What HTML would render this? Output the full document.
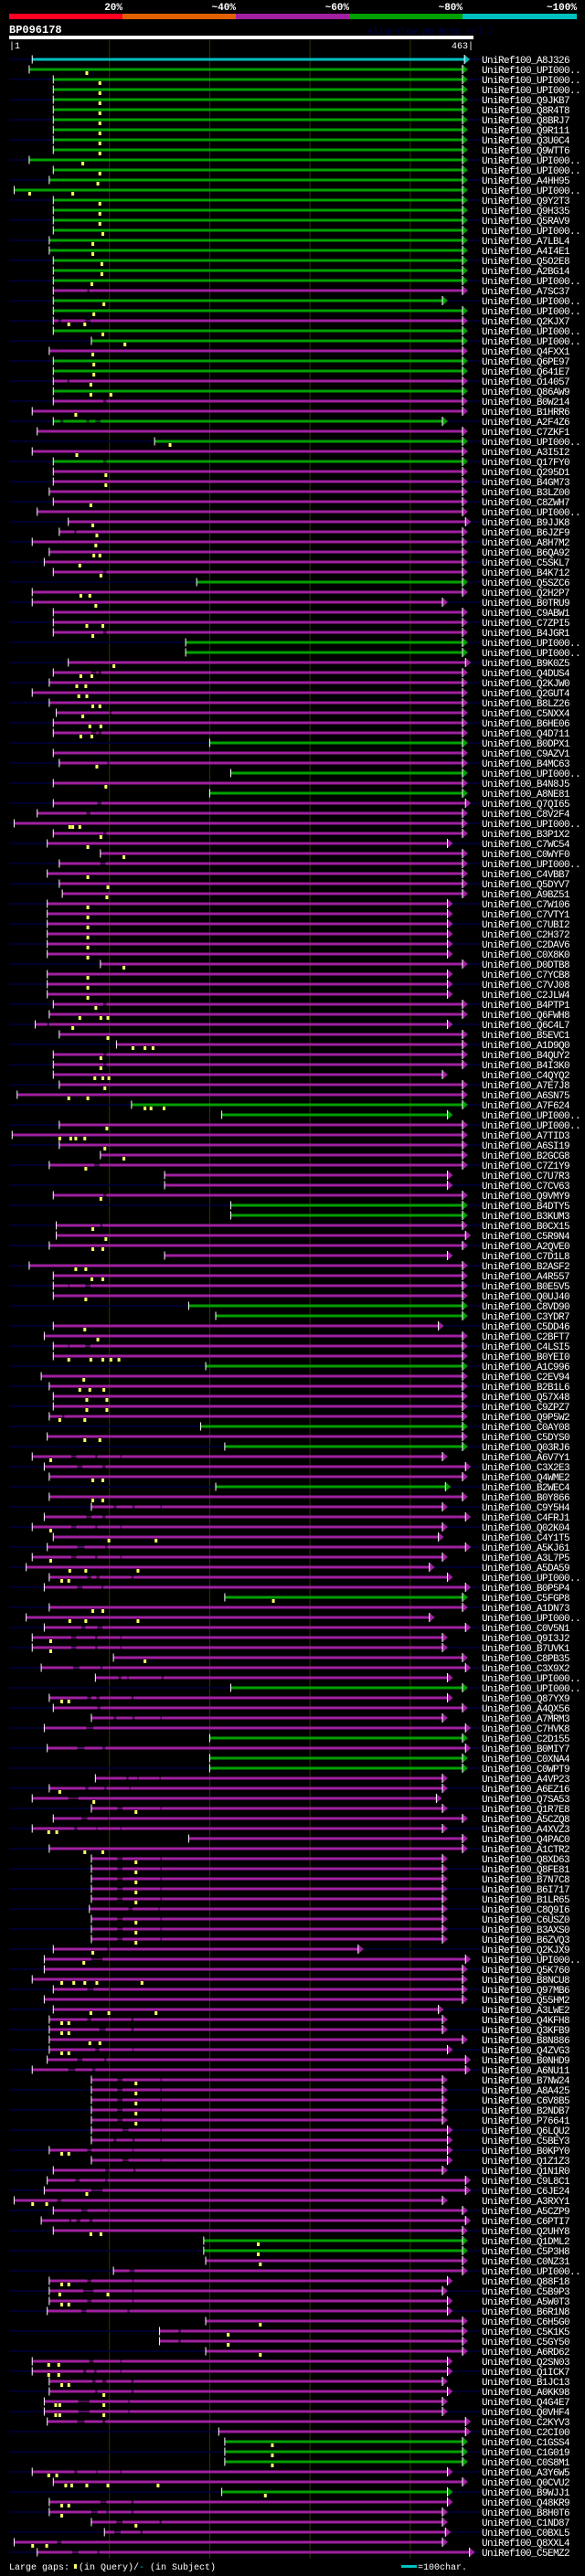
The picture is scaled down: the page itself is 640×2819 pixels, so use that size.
<!DOCTYPE html>
<html><head><meta charset="utf-8">
<style>
html,body{margin:0;padding:0;background:#000;}
svg{display:block;}
text{font-family:"Liberation Mono","DejaVu Sans Mono",monospace;}
</style></head>
<body>
<svg id="chart" xmlns="http://www.w3.org/2000/svg" width="640" height="2819" viewBox="0 0 640 2819">
<rect x="0" y="0" width="640" height="2819" fill="#000"/>
<g>
<rect x="10" y="15" width="124" height="6" fill="#ff0020"/>
<rect x="134" y="15" width="124" height="6" fill="#e06000"/>
<rect x="258" y="15" width="124" height="6" fill="#a020a0"/>
<rect x="382" y="15" width="124" height="6" fill="#00a000"/>
<rect x="506" y="15" width="125" height="6" fill="#00c0c0"/>
<text x="134" y="11" fill="#fff" font-size="11" font-weight="bold" text-anchor="end">20%</text>
<text x="258" y="11" fill="#fff" font-size="11" font-weight="bold" text-anchor="end">~40%</text>
<text x="382" y="11" fill="#fff" font-size="11" font-weight="bold" text-anchor="end">~60%</text>
<text x="506" y="11" fill="#fff" font-size="11" font-weight="bold" text-anchor="end">~80%</text>
<text x="631" y="11" fill="#fff" font-size="11" font-weight="bold" text-anchor="end">~100%</text>
</g>
<text x="10" y="36" fill="#fff" font-size="12" font-weight="bold">BP096178</text>
<text x="402" y="37" fill="#000050" font-size="10">AlignView.pm Beta rel.7</text>
<rect x="10" y="39" width="508" height="4" fill="#fff"/>
<text x="10" y="53" fill="#fff" font-size="10">|1</text>
<text x="518" y="53" fill="#fff" font-size="10" text-anchor="end">463|</text>
<g id="grid"></g>
<g id="rows"></g>
<g>
<text x="10" y="2812" fill="#fff" font-size="10">Large gaps:</text>
<rect x="81" y="2806" width="3" height="5" fill="#ffff66"/>
<text x="86" y="2812" fill="#fff" font-size="10">(in Query)/</text>
<text x="152" y="2812" fill="#00c0c0" font-size="10">-</text>
<text x="164" y="2812" fill="#fff" font-size="10">(in Subject)</text>
<rect x="439" y="2807" width="17" height="3" fill="#00c0c0"/>
<text x="457" y="2812" fill="#fff" font-size="10">=100char.</text>
</g>
</svg>
<script>
const queryLength = 463;
const gridTicks = [100, 200, 300, 400];
const hitLabels = ["A8J326","UPI000..","UPI000..","UPI000..","Q9JKB7","Q8R4T8","Q8BRJ7","Q9R111","Q3U0C4","Q9WTT6",
"UPI000..","UPI000..","A4HH95","UPI000..","Q9Y2T3","Q9H335","Q5RAV9","UPI000..","A7LBL4","A4I4E1",
"Q5O2E8","A2BG14","UPI000..","A7SC37","UPI000..","UPI000..","Q2KJX7","UPI000..","UPI000..","Q4FXX1",
"Q6PE97","Q641E7","O14057","Q86AW9","B0W214","B1HRR6","A2F4Z6","C7ZKF1","UPI000..","A3I5I2",
"Q17FY0","Q295D1","B4GM73","B3LZ00","C8ZWH7","UPI000..","B9JJK8","B6JZF9","A8H7M2","B6QA92",
"C5SKL7","B4K712","Q5SZC6","Q2H2P7","B0TRU9","C9ABW1","C7ZPI5","B4JGR1","UPI000..","UPI000..",
"B9K0Z5","Q4DUS4","Q2KJW0","Q2GUT4","B8LZ26","C5NXX4","B6HE06","Q4D711","B0DPX1","C9AZV1",
"B4MC63","UPI000..","B4N8J5","A8NE81","Q7QI65","C8V2F4","UPI000..","B3P1X2","C7WC54","C0WYF0",
"UPI000..","C4VBB7","Q5DYV7","A9BZ51","C7W106","C7VTY1","C7UBI2","C2H372","C2DAV6","C0X8K0",
"D0DTB8","C7YCB8","C7VJ08","C2JLW4","B4PTP1","Q6FWH8","Q6C4L7","B5EVC1","A1D9Q0","B4QUY2",
"B4I3K0","C4QYQ2","A7E7J8","A6SN75","A7F624","UPI000..","UPI000..","A7TID3","A6SI19","B2GCG8",
"C7Z1Y9","C7U7R3","C7CV63","Q9VMY9","B4DTY5","B3KUM3","B0CX15","C5R9N4","A2QVE0","C7D1L8",
"B2ASF2","A4R557","B0E5V5","Q0UJ40","C8VD90","C3YDR7","C5DD46","C2BFT7","C4LSI5","B0YEI0",
"A1C996","C2EV94","B2B1L6","Q57X48","C9ZPZ7","Q9P5W2","C0AY08","C5DYS0","Q03RJ6","A6V7Y1",
"C3X2E3","Q4WME2","B2WEC4","B0Y866","C9Y5H4","C4FRJ1","Q02K04","C4Y1T5","A5KJ61","A3L7P5",
"A5DA59","UPI000..","B0P5P4","C5FGP8","A1DN73","UPI000..","C0V5N1","Q9I3J2","B7UVK1","C8PB35",
"C3X9X2","UPI000..","UPI000..","Q87YX9","A4QX56","A7MRM3","C7HVK8","C2D155","B0MIY7","C0XNA4",
"C0WPT9","A4VP23","A6EZ16","Q7SA53","Q1R7E8","A5CZQ8","A4XVZ3","Q4PAC0","A1CTR2","Q8XD63",
"Q8FE81","B7N7C8","B6I717","B1LR65","C8Q9I6","C6USZ0","B3AXS0","B6ZVQ3","Q2KJX9","UPI000..",
"Q5K760","B8NCU8","Q97MB6","Q55HM2","A3LWE2","Q4KFH8","Q3KFB9","B8N886","Q4ZVG3","B0NHD9",
"A6NU11","B7NW24","A8A425","C6V8B5","B2NDB7","P76641","Q6LQU2","C5BEY3","B0KPY0","Q1Z1Z3",
"Q1N1R0","C9L8C1","C6JE24","A3RXY1","A5CZP9","C6PTI7","Q2UHY8","Q1DML2","C5P3H8","C0NZ31",
"UPI000..","Q88F18","C5B9P3","A5W0T3","B6R1N8","C6H5G0","C5K1K5","C5GY50","A6RD62","Q2SN03",
"Q1ICK7","B1JC13","A0KK98","Q4G4E7","Q0VHF4","C2KYV3","C2CI00","C1GSS4","C1G019","C0S8M1",
"A3Y6W5","Q0CVU2","B9WJJ1","Q48KR9","B8H0T6","C1ND87","C0BXL5","Q8XXL4","C5EMZ2"];
const hitIdentity = ("cggggggggg"+"gggggggggg"+"gggmggmggm"+"ggmgmmgmgm"+"gmmmmmmmmm"+"mmgmmmmmgg"+"mmmmmmmmgm"+"mgmgmmmmmm"+"mmmmmmmmmm"+"mmmmmmmmmm"+
"mmmmggmmmm"+"mmmmggmmmm"+"mmmmggmmmm"+"gmmmmmgmgm"+"mmgmmmmmmm"+"mmmgmmmmmm"+"mmgmmmmgmg"+"gmmmmmmmmm"+"mmmmmmmmmm"+"mmmmmmmmmm"+
"mmmmmmmmmm"+"mmmmmmmggm"+"mmmmmmmmmm"+"mmmmmmmggg"+"mmgmmmmmm").split("");
const hitStarts = [23,20,44,44,44,44,44,44,44,44, 20,44,40,5,44,44,44,44,40,40,
44,44,44,44,44,44,44,44,82,40, 44,44,44,44,44,23,44,28,145,23,
44,44,44,40,44,28,59,50,23,40, 35,44,187,23,23,44,44,44,176,176,
59,44,40,23,40,47,44,44,200,44, 50,221,44,200,44,28,5,44,38,91,
50,38,50,53,38,38,38,38,38,38, 91,38,38,38,44,40,26,50,107,44,
44,44,50,8,122,212,50,3,50,91, 40,155,155,44,221,221,47,47,40,155,
20,44,44,44,179,206,44,35,44,44, 196,32,40,44,44,40,191,38,215,23,
35,40,206,40,82,35,23,44,38,23, 17,40,35,215,40,17,35,23,23,104,
32,86,221,40,44,82,35,200,38,200, 200,86,40,23,82,44,23,179,40,82,
82,82,82,82,80,82,82,82,44,35, 35,23,44,35,44,40,40,40,40,38,
23,82,82,82,82,82,82,82,40,82, 44,38,35,5,44,32,44,194,194,196,
104,40,40,40,38,196,150,150,196,23, 23,40,40,35,35,38,209,215,215,215,
23,44,212,40,40,82,95,5,28];
const hitEnds = [454,452,452,452,452,452,452,452,452,452, 452,452,452,452,452,452,452,452,452,452,
452,452,452,452,432,452,452,452,452,452, 452,452,452,452,452,452,432,452,452,452,
452,452,452,452,452,452,455,452,452,452, 452,452,452,452,432,452,452,452,452,452,
455,452,452,452,452,452,452,452,452,452, 452,452,452,452,455,452,452,452,437,452,
452,452,452,452,437,437,437,437,437,437, 452,437,437,437,452,452,437,452,452,452,
452,432,452,452,452,437,452,452,452,452, 452,437,437,452,452,452,452,455,452,437,
452,452,452,452,452,452,428,452,452,452, 452,452,452,452,452,452,452,452,452,432,
455,452,435,452,432,455,432,428,455,432, 419,437,455,452,452,419,455,432,432,452,
455,437,452,437,452,432,455,452,455,452, 452,432,432,426,432,452,432,452,452,432,
432,432,432,432,432,432,432,432,348,455, 452,452,452,452,428,432,432,452,437,455,
455,432,432,432,432,432,437,437,437,437, 432,455,455,432,452,455,452,452,452,452,
452,437,432,437,437,452,452,452,452,437, 437,432,437,432,432,455,455,452,452,452,
437,452,437,437,432,432,435,432,459];
const hitGaps = [];
hitGaps[23]=[[78,80]]; hitGaps[26]=[[49,52],[76,81]]; hitGaps[32]=[[58,60]];
hitGaps[36]=[[51,54],[77,80],[86,91]]; hitGaps[47]=[[65,67]];
[34,40,51,57,77,94,99,100,113].forEach(i=>{hitGaps[i]=[[94,97]];});
hitGaps[61]=[[82,87],[89,92]]; hitGaps[67]=[[82,87],[89,92]]; hitGaps[65]=[[100,102]];
hitGaps[70]=[[98,100]]; hitGaps[74]=[[88,92]]; hitGaps[75]=[[77,81]]; hitGaps[80]=[[91,96]];
hitGaps[96]=[[38,40]]; hitGaps[110]=[[85,90]]; hitGaps[116]=[[91,93]];
hitGaps[122]=[[59,60],[76,81]]; hitGaps[128]=[[59,60],[76,81]]; hitGaps[135]=[[53,55]];
[139,146,149,157,158].forEach(i=>{hitGaps[i]=[[62,67],[86,88],[111,112]];});
hitGaps[140]=[[68,73],[93,96]]; hitGaps[144]=[[104,107],[123,125],[151,152]];
hitGaps[145]=[[77,82],[93,96]]; hitGaps[148]=[[68,75],[96,98]];
hitGaps[151]=[[78,82],[87,90],[122,124]]; hitGaps[152]=[[68,73],[92,94]];
hitGaps[156]=[[72,76],[88,93]]; hitGaps[160]=[[64,70],[91,93]];
hitGaps[161]=[[109,112],[118,119],[152,154]]; hitGaps[163]=[[78,82],[87,90],[122,124]];
hitGaps[164]=[[88,91]]; hitGaps[165]=[[104,107],[123,125],[151,152]]; hitGaps[166]=[[77,84]];
hitGaps[168]=[[68,75],[93,96]]; hitGaps[171]=[[117,119],[128,129],[150,151]];
hitGaps[172]=[[76,79],[95,97],[120,121]]; hitGaps[173]=[[59,69]]; hitGaps[174]=[[108,113],[151,152]];
hitGaps[175]=[[72,78],[99,100]]; hitGaps[176]=[[65,68],[87,88],[111,112]];
[179,180,181,182,183,185,186,187,201,202,203,204,205].forEach(i=>{hitGaps[i]=[[108,113],[151,152]];});
hitGaps[184]=[[119,123],[149,150]]; hitGaps[188]=[[98,100]]; hitGaps[189]=[[82,93]];
hitGaps[192]=[[78,84],[100,101]]; hitGaps[195]=[[78,82],[122,124]]; hitGaps[196]=[[90,96],[122,124]];
hitGaps[198]=[[86,90],[123,124]]; hitGaps[199]=[[68,73],[95,97]]; hitGaps[200]=[[59,66],[83,86]];
hitGaps[206]=[[113,119],[151,152]]; hitGaps[207]=[[104,107],[123,125],[151,152]];
hitGaps[208]=[[78,82],[123,124]]; hitGaps[209]=[[113,119],[151,152]]; hitGaps[210]=[[96,100],[124,126]];
hitGaps[211]=[[66,70],[96,98]]; hitGaps[212]=[[82,93]]; hitGaps[213]=[[48,52]];
hitGaps[214]=[[72,78],[99,100]]; hitGaps[215]=[[60,62],[67,71],[80,83]]; hitGaps[220]=[[120,125]];
hitGaps[221]=[[78,82],[123,124]]; hitGaps[222]=[[74,84],[123,124]]; hitGaps[223]=[[78,82],[123,124]];
hitGaps[224]=[[72,77],[118,120]]; hitGaps[226]=[[169,171]]; hitGaps[227]=[[169,171]];
hitGaps[229]=[[80,84],[111,112]]; hitGaps[230]=[[74,77],[85,87],[111,112]];
hitGaps[231]=[[83,86],[93,97],[122,124]]; hitGaps[232]=[[86,88],[122,124]];
hitGaps[233]=[[69,80],[119,120]]; hitGaps[234]=[[69,80],[119,120]]; hitGaps[235]=[[68,75],[93,96]];
hitGaps[240]=[[65,68],[87,88],[111,112]]; hitGaps[243]=[[91,97],[122,124]];
hitGaps[244]=[[82,88],[97,99],[122,124]]; hitGaps[245]=[[107,113],[150,152]];
hitGaps[246]=[[105,111],[131,133]]; hitGaps[247]=[[48,52]]; hitGaps[248]=[[63,69],[88,90]];
const hitInserts = [];
hitInserts[1]=[77]; [2,3,4,5,6,7,8,9,11,14,15,16].forEach(i=>{hitInserts[i]=[90];});
hitInserts[10]=[73]; hitInserts[12]=[88]; hitInserts[13]=[20,63]; hitInserts[17]=[93];
hitInserts[18]=[83]; hitInserts[19]=[83]; hitInserts[20]=[92]; hitInserts[21]=[92]; hitInserts[22]=[82];
hitInserts[24]=[94]; hitInserts[25]=[84]; hitInserts[26]=[59,75]; hitInserts[27]=[93]; hitInserts[28]=[115];
hitInserts[29]=[83]; hitInserts[30]=[84]; hitInserts[31]=[84]; hitInserts[32]=[81]; hitInserts[33]=[81,101];
hitInserts[35]=[66]; hitInserts[38]=[160]; hitInserts[39]=[67]; hitInserts[41]=[96]; hitInserts[42]=[96];
hitInserts[44]=[81]; hitInserts[46]=[83]; hitInserts[47]=[87]; hitInserts[48]=[86]; hitInserts[49]=[84,90];
hitInserts[50]=[70]; hitInserts[51]=[91]; hitInserts[53]=[71,80]; hitInserts[54]=[86]; hitInserts[56]=[77,93];
hitInserts[57]=[83]; hitInserts[60]=[104]; hitInserts[61]=[71,82]; hitInserts[62]=[67,76]; hitInserts[63]=[69,77];
hitInserts[64]=[83,90]; hitInserts[65]=[73]; hitInserts[66]=[80,91]; hitInserts[67]=[71,82]; hitInserts[70]=[87];
hitInserts[72]=[96]; hitInserts[76]=[60,63,70]; hitInserts[77]=[91]; hitInserts[78]=[78]; hitInserts[79]=[114];
hitInserts[81]=[78]; hitInserts[82]=[98]; hitInserts[83]=[97];
[84,85,86,87,88,89,91,92,93].forEach(i=>{hitInserts[i]=[78];});
hitInserts[90]=[114]; hitInserts[94]=[86]; hitInserts[95]=[70,91,98]; hitInserts[96]=[63]; hitInserts[97]=[98];
hitInserts[98]=[123,135,143]; hitInserts[99]=[91]; hitInserts[100]=[91]; hitInserts[101]=[85,93,99];
hitInserts[102]=[95]; hitInserts[103]=[59,78]; hitInserts[104]=[135,141,154]; hitInserts[106]=[97];
hitInserts[107]=[50,61,66,75]; hitInserts[108]=[95]; hitInserts[109]=[114]; hitInserts[110]=[76];
hitInserts[113]=[91]; hitInserts[116]=[83]; hitInserts[117]=[96]; hitInserts[118]=[83,93]; hitInserts[120]=[66,76];
hitInserts[121]=[82,93]; hitInserts[123]=[76]; hitInserts[126]=[75]; hitInserts[127]=[88];
hitInserts[129]=[59,81,93,101,109]; hitInserts[131]=[74]; hitInserts[132]=[70,80,94];
hitInserts[133]=[77,97]; hitInserts[134]=[77,97]; hitInserts[135]=[50,75]; hitInserts[137]=[75,90];
hitInserts[139]=[41]; hitInserts[141]=[83,93]; hitInserts[143]=[83,93]; hitInserts[146]=[41];
hitInserts[147]=[99,146]; hitInserts[149]=[41]; hitInserts[150]=[60,76,128]; hitInserts[151]=[52,59];
hitInserts[153]=[263]; hitInserts[154]=[83,93]; hitInserts[155]=[60,76,128]; hitInserts[157]=[41];
hitInserts[158]=[41]; hitInserts[159]=[135]; hitInserts[163]=[52,59]; hitInserts[172]=[50];
hitInserts[173]=[84]; hitInserts[174]=[126]; hitInserts[176]=[39,47]; hitInserts[178]=[75,93];
[179,180,181,182,183,185,186,187,201,202,203,204,205,245].forEach(i=>{hitInserts[i]=[126];});
hitInserts[188]=[83]; hitInserts[189]=[74]; hitInserts[191]=[52,64,75,87,132];
hitInserts[194]=[81,99,146]; hitInserts[195]=[52,59]; hitInserts[196]=[52,59]; hitInserts[197]=[80,90];
hitInserts[198]=[52,59]; hitInserts[208]=[52,59]; hitInserts[212]=[77]; hitInserts[213]=[23,37];
hitInserts[216]=[81,91]; hitInserts[217]=[248]; hitInserts[218]=[248]; hitInserts[219]=[250];
hitInserts[221]=[52,59]; hitInserts[222]=[50,98]; hitInserts[223]=[52,59]; hitInserts[225]=[250];
hitInserts[226]=[218]; hitInserts[227]=[218]; hitInserts[228]=[250]; hitInserts[229]=[39,49];
hitInserts[230]=[39,49]; hitInserts[231]=[52,59]; hitInserts[232]=[94]; hitInserts[233]=[46,50,94];
hitInserts[234]=[46,50,94]; hitInserts[237]=[262]; hitInserts[238]=[262]; hitInserts[239]=[262];
hitInserts[240]=[39,47]; hitInserts[241]=[56,62,77,98,148]; hitInserts[242]=[255]; hitInserts[243]=[52,59];
hitInserts[244]=[52]; hitInserts[247]=[23,37];

const NS = "http://www.w3.org/2000/svg";
const colorMap = {c:"#00c0c0", g:"#00a000", m:"#a020a0"};
const xOf = r => 10 + r * (508 / queryLength);
const yOf = i => 65 + 11 * i;
function mk(tag, attrs, parent) {
  const el = document.createElementNS(NS, tag);
  for (const k in attrs) el.setAttribute(k, attrs[k]);
  parent.appendChild(el);
  return el;
}
const grid = document.getElementById("grid");
gridTicks.forEach(t => {
  const l = mk("rect", {x: xOf(t) - 0.5, y: 44, width: 1, height: 2756, fill: "#333300"}, grid);
  
  
});
const rows = document.getElementById("rows");
hitLabels.forEach((lab, i) => {
  const y = yOf(i);
  const col = colorMap[hitIdentity[i]] || "#a020a0";
  const g = mk("g", {}, rows);
  
  
  if (i % 2 === 0) {
    const band = mk("rect", {x: 10, y: y - 1, width: 517, height: 2, fill: "#00002e"}, g);
    
    
  }
  const xs = xOf(hitStarts[i]), xe = xOf(hitEnds[i]);
  const gaps = hitGaps[i] || [];
  let cur = xs;
  gaps.forEach(gp => {
    const a = xOf(gp[0]), b = xOf(gp[1]);
    const seg = mk("rect", {x: cur, y: y - 1.5, width: Math.max(0, a - cur), height: 3, fill: col}, g);
    
    
    const thin = mk("rect", {x: a, y: y - 0.5, width: b - a, height: 1, fill: col}, g);
    
    
    cur = b;
  });
  const last = mk("rect", {x: cur, y: y - 1.5, width: Math.max(0, xe - cur), height: 3, fill: col}, g);
  
  
  const tick = mk("rect", {x: xs - 0.5, y: y - 4.5, width: 1, height: 9, fill: "#fff"}, g);
  
  
  const arr = mk("polygon", {points: `${xe},${y-5} ${xe},${y+5} ${xe+6},${y}`, fill: col}, g);
  
  
  const aw = mk("rect", {x: xe - 0.5, y: y - 5, width: 1, height: 10, fill: "#fff"}, g);
  
  
  (hitInserts[i] || []).forEach(r => {
    const m = mk("rect", {x: xOf(r) - 1, y: y + 2, width: 3, height: 4, fill: "#ffff66"}, g);
    
    
  });
  const t = mk("text", {x: 527, y: y + 4, fill: "#fff", "font-size": 11, "letter-spacing": "-0.6"}, g);
  t.textContent = "UniRef100_" + lab;
  
  
});
</script>
</body></html>
